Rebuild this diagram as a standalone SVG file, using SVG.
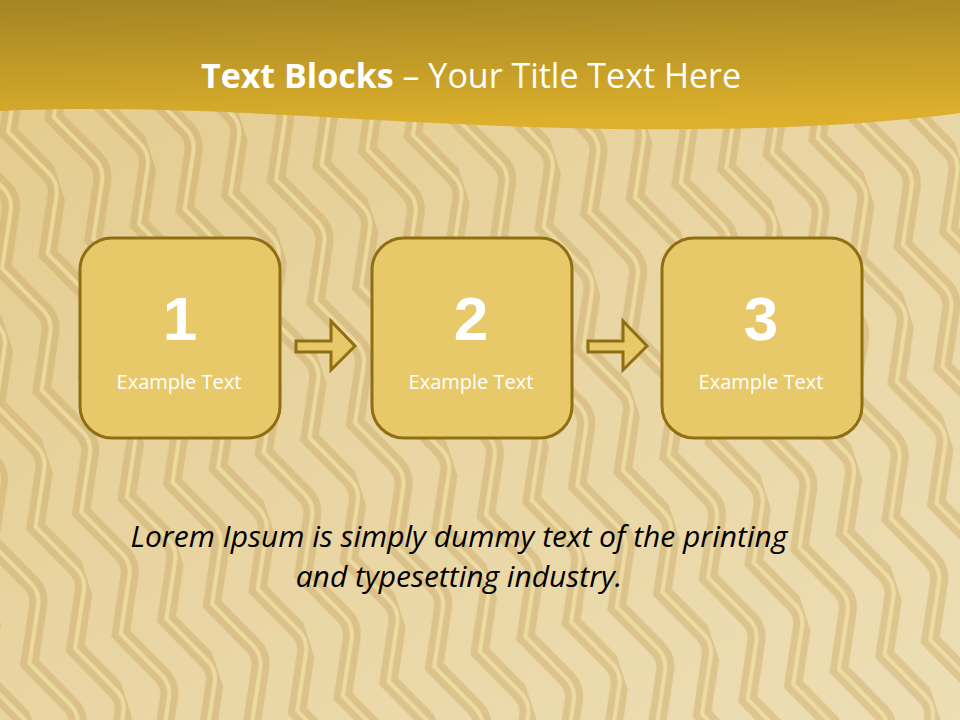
<svg xmlns="http://www.w3.org/2000/svg" width="960" height="720" viewBox="0 0 960 720">
  <defs>
    <linearGradient id="bg" x1="0" y1="0" x2="1" y2="1">
      <stop offset="0" stop-color="#e4cb8c"/>
      <stop offset="0.5" stop-color="#e9d5a2"/>
      <stop offset="1" stop-color="#eddeb4"/>
    </linearGradient>
    <linearGradient id="hdr" x1="0" y1="0" x2="0.15" y2="1">
      <stop offset="0" stop-color="#a48423"/>
      <stop offset="1" stop-color="#dcb02c"/>
    </linearGradient>
    <pattern id="tex" x="0" y="0" width="96" height="128" patternUnits="userSpaceOnUse" patternTransform="rotate(-18)">
      <path d="M10,-10 L40,50 Q48,64 40,78 L10,138" fill="none" stroke="#c6a25e" stroke-width="18" stroke-linecap="round" opacity="0.4"/>
      <path d="M10,-10 L40,50 Q48,64 40,78 L10,138" fill="none" stroke="#f6e9b0" stroke-width="4" stroke-linecap="round" opacity="0.65"/>
      <path d="M58,-10 L88,50 Q96,64 88,78 L58,138" fill="none" stroke="#c6a25e" stroke-width="18" stroke-linecap="round" opacity="0.4"/>
      <path d="M58,-10 L88,50 Q96,64 88,78 L58,138" fill="none" stroke="#f6e9b0" stroke-width="4" stroke-linecap="round" opacity="0.65"/>
    </pattern>
    <style>
      .box { fill: #e8c96a; stroke: #8f6f14; stroke-width: 3; }
      .num { font-family: "Liberation Sans", Arial, sans-serif; font-weight: bold; font-size: 62px; fill: #ffffff; text-anchor: middle; }
      .lbl { font-family: "Open Sans", "Liberation Sans", sans-serif; font-size: 20px; fill: #ffffff; text-anchor: middle; }
      .arrow { fill: #e8c96a; stroke: #8f6f14; stroke-width: 3; stroke-linejoin: miter; }
      .title { font-family: "Open Sans", "Liberation Sans", sans-serif; font-size: 34px; fill: #ffffff; text-anchor: middle; }
      .body { font-family: "Open Sans", "Liberation Sans", sans-serif; font-style: italic; font-size: 30px; fill: #000000; text-anchor: middle; }
    </style>
  </defs>

  <rect x="0" y="0" width="960" height="720" fill="url(#bg)"/>
  <rect x="0" y="0" width="960" height="720" fill="url(#tex)"/>

  <path d="M0,0 H960 V113 C820,132 640,132 480,125 C320,118 160,104 0,111 Z" fill="url(#hdr)"/>
  <text class="title" x="471" y="88"><tspan font-weight="bold">Text Blocks</tspan> – Your Title Text Here</text>

  <g id="connectors">
    <path class="arrow" d="M296,341 H331 V321 L355,346 L331,370 V352 H296 Z"/>
    <path class="arrow" d="M588,341 H623 V321 L647,346 L623,370 V352 H588 Z"/>
  </g>

  <g id="node1">
    <rect class="box" x="80" y="238" width="200" height="200" rx="32"/>
    <text class="num" x="180" y="340">1</text>
    <text class="lbl" x="179" y="389">Example Text</text>
  </g>
  <g id="node2">
    <rect class="box" x="372" y="238" width="200" height="200" rx="32"/>
    <text class="num" x="471" y="340">2</text>
    <text class="lbl" x="471" y="389">Example Text</text>
  </g>
  <g id="node3">
    <rect class="box" x="662" y="238" width="200" height="200" rx="32"/>
    <text class="num" x="761" y="340">3</text>
    <text class="lbl" x="761" y="389">Example Text</text>
  </g>

  <text class="body" x="459" y="547">Lorem Ipsum is simply dummy text of the printing</text>
  <text class="body" x="459" y="587">and typesetting industry.</text>
</svg>
